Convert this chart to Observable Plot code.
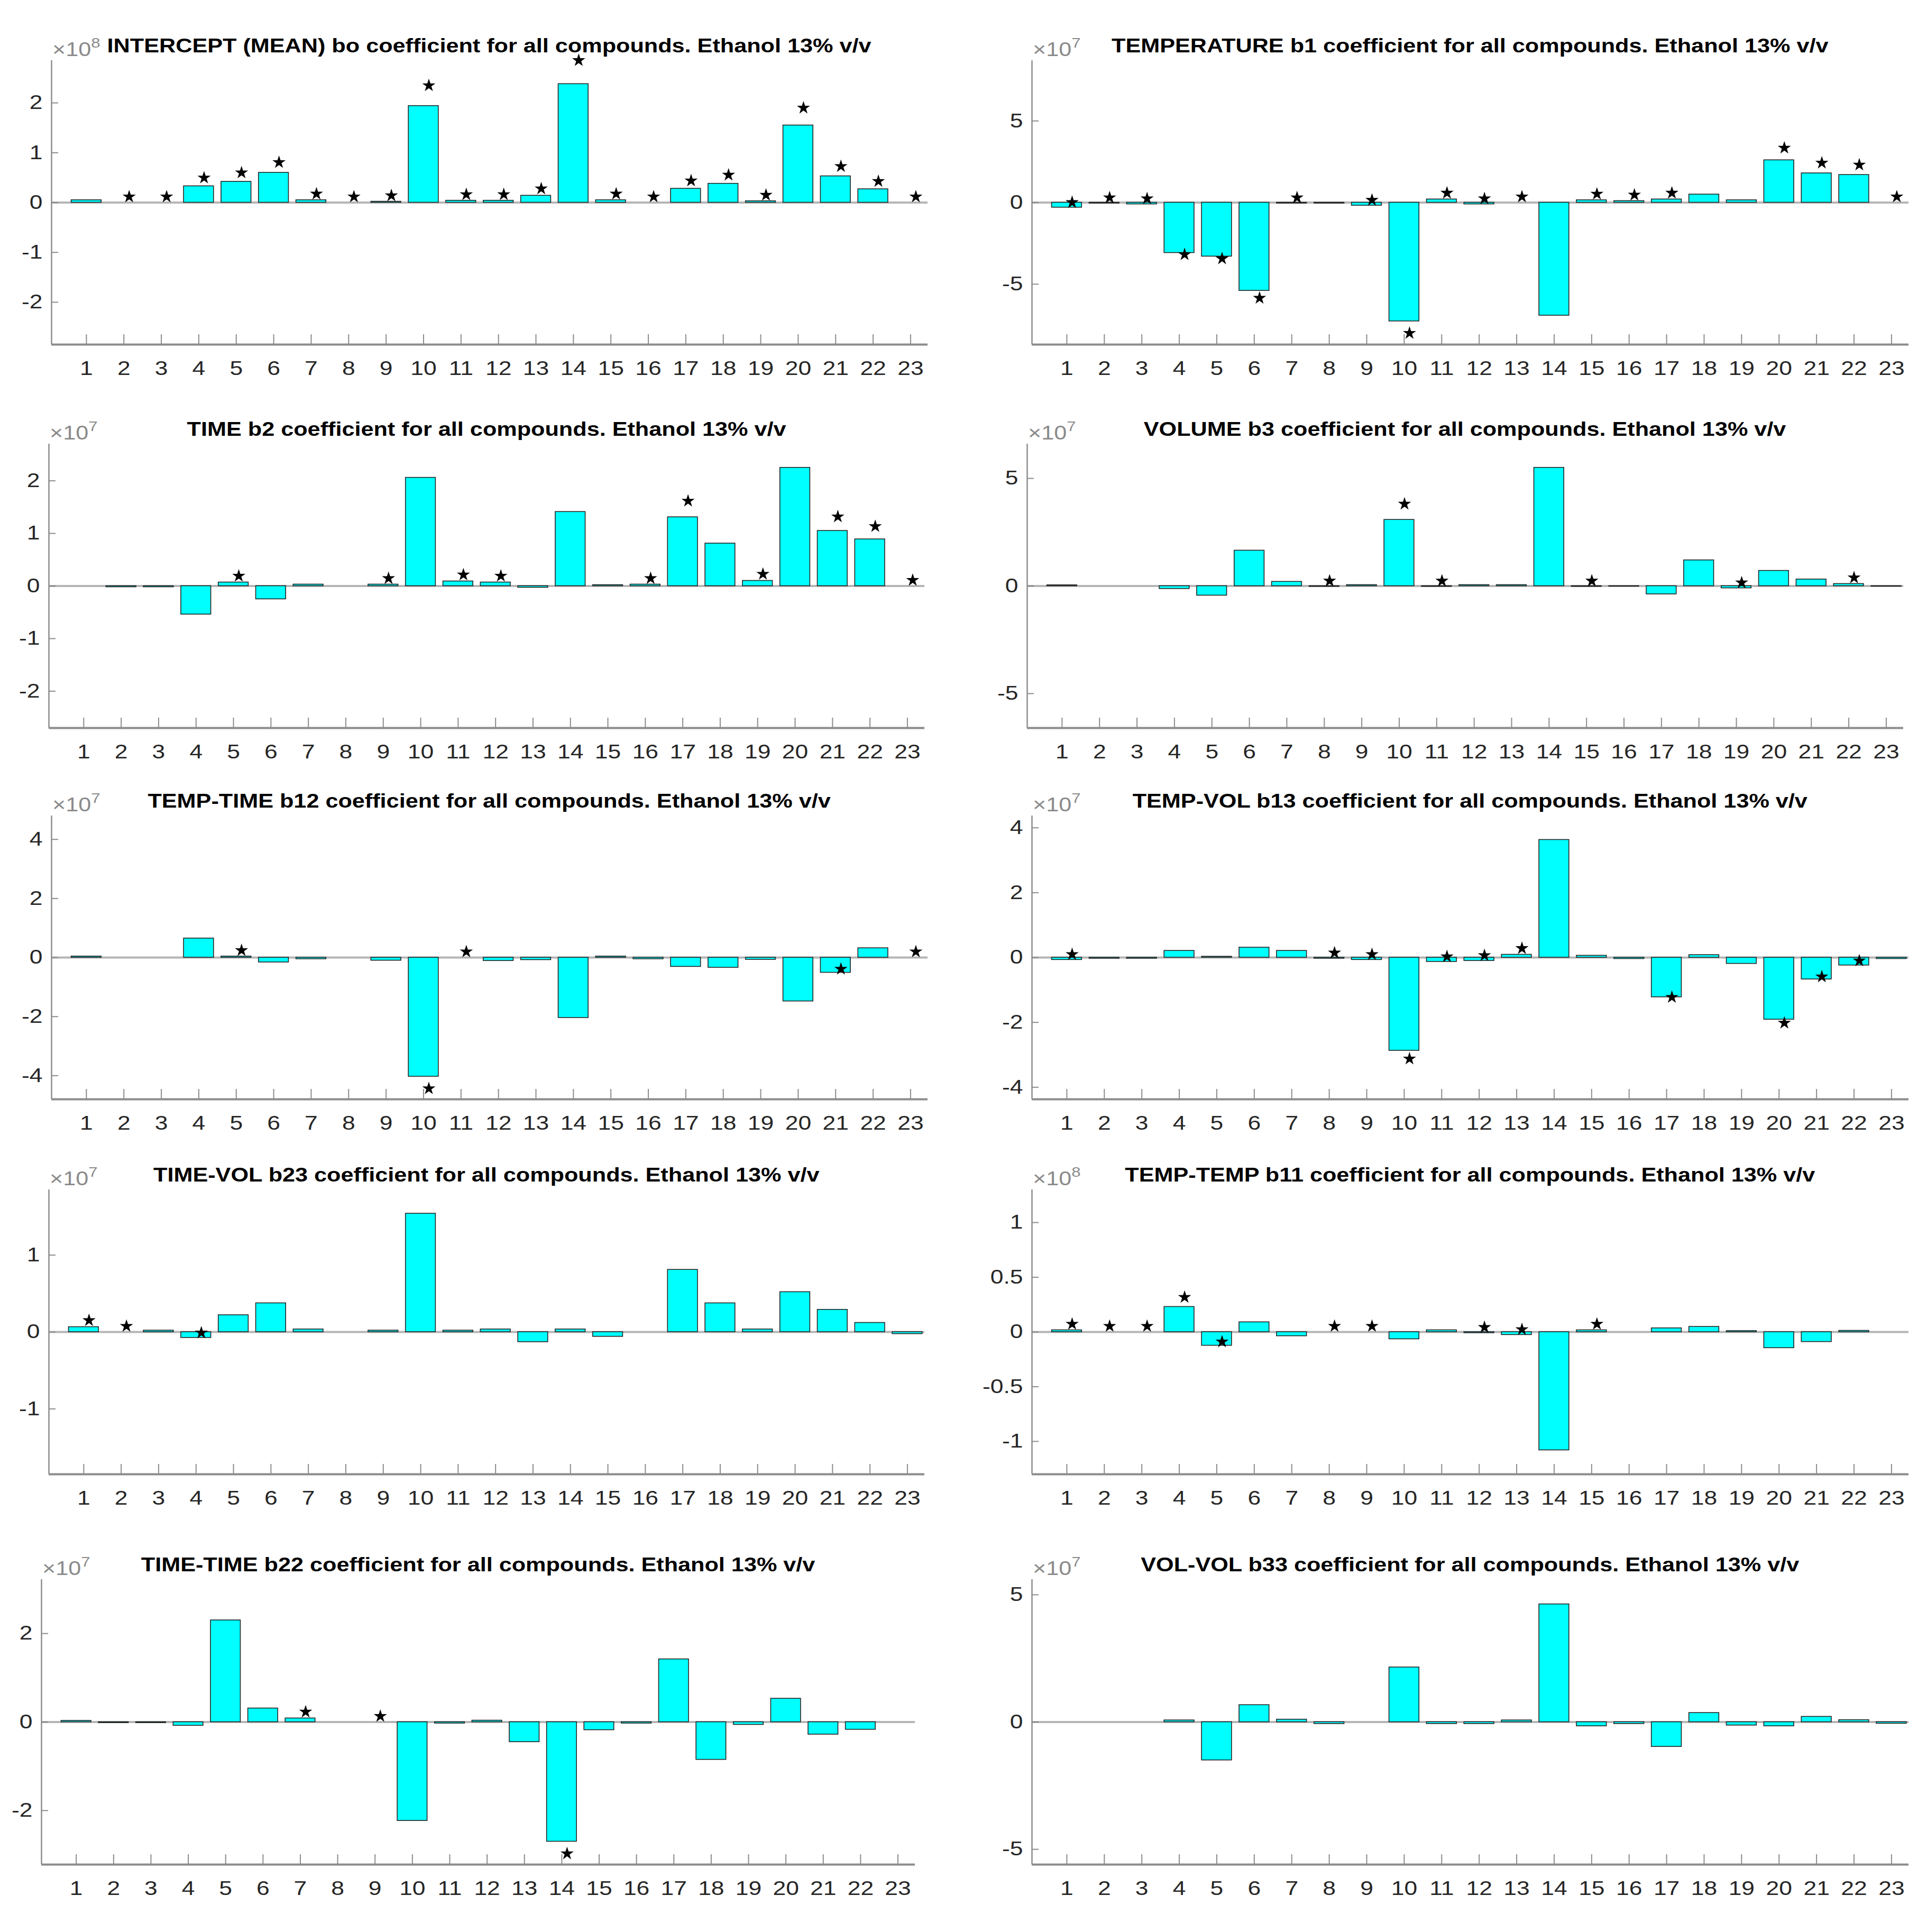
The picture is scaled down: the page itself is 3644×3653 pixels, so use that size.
<!DOCTYPE html>
<html>
<head>
<meta charset="utf-8">
<script src="https://cdn.jsdelivr.net/npm/d3@7"></script>
<script src="https://cdn.jsdelivr.net/npm/@observablehq/plot@0.6"></script>
<style>
  html, body { margin: 0; padding: 0; background: #fff; }
  #root { position: relative; width: 3644px; height: 3653px; background: #fff; font-family: "Liberation Sans", Arial, sans-serif; }
  .ttl { position: absolute; text-align: center; font-weight: bold; font-size: 36px; line-height: 36px; color: #000; white-space: nowrap; }
  .ttl span { display: inline-block; transform: scaleX(1.2); transform-origin: 50% 50%; }
  .exp { position: absolute; font-size: 36px; line-height: 36px; color: #8a8a8a; white-space: nowrap; transform: scaleX(1.2); transform-origin: 0 50%; }
  .exp sup { font-size: 26px; position: relative; vertical-align: baseline; top: -16px; }
  .pan { position: absolute; }
</style>
</head>
<body>
<div id="root"></div>
<script>
// ---- data ----
const compounds = [1,2,3,4,5,6,7,8,9,10,11,12,13,14,15,16,17,18,19,20,21,22,23];

const titles = [
  "INTERCEPT (MEAN) bo coefficient for all compounds. Ethanol 13% v/v",
  "TEMPERATURE b1 coefficient for all compounds. Ethanol 13% v/v",
  "TIME b2 coefficient for all compounds. Ethanol 13% v/v",
  "VOLUME b3 coefficient for all compounds. Ethanol 13% v/v",
  "TEMP-TIME b12 coefficient for all compounds. Ethanol 13% v/v",
  "TEMP-VOL b13 coefficient for all compounds. Ethanol 13% v/v",
  "TIME-VOL b23 coefficient for all compounds. Ethanol 13% v/v",
  "TEMP-TEMP b11 coefficient for all compounds. Ethanol 13% v/v",
  "TIME-TIME b22 coefficient for all compounds. Ethanol 13% v/v",
  "VOL-VOL b33 coefficient for all compounds. Ethanol 13% v/v"
];
const exponents = [8, 7, 7, 7, 7, 7, 7, 8, 7, 7];

// coefficient values (in units of the axis multiplier)
const b0  = [0.05, 0, 0, 0.33, 0.42, 0.60, 0.05, 0, 0.02, 1.94, 0.04, 0.04, 0.14, 2.38, 0.05, 0, 0.28, 0.38, 0.03, 1.55, 0.53, 0.27, 0];
const b1  = [-0.3, -0.05, -0.1, -3.08, -3.3, -5.4, -0.05, -0.05, -0.18, -7.27, 0.2, -0.1, 0, -6.92, 0.15, 0.1, 0.2, 0.5, 0.15, 2.6, 1.8, 1.7, 0];
const b2  = [0, -0.02, -0.02, -0.54, 0.07, -0.25, 0.03, 0, 0.03, 2.06, 0.09, 0.07, -0.03, 1.41, 0.02, 0.03, 1.31, 0.81, 0.10, 2.25, 1.05, 0.89, 0];
const b3  = [0.04, 0, 0, -0.13, -0.44, 1.65, 0.2, -0.03, 0.05, 3.08, -0.03, 0.05, 0.05, 5.5, -0.03, -0.02, -0.38, 1.2, -0.1, 0.71, 0.31, 0.1, -0.02];
const b12 = [0.04, 0, 0, 0.65, 0.04, -0.16, -0.05, 0, -0.1, -4.03, 0, -0.11, -0.08, -2.04, 0.04, -0.05, -0.31, -0.34, -0.07, -1.48, -0.51, 0.32, 0];
const b13 = [-0.07, -0.03, -0.03, 0.21, 0.03, 0.31, 0.21, -0.03, -0.07, -2.87, -0.13, -0.1, 0.09, 3.63, 0.06, -0.04, -1.22, 0.08, -0.19, -1.91, -0.67, -0.24, -0.04];
const b23 = [0.065, 0, 0.02, -0.075, 0.22, 0.375, 0.035, 0, 0.02, 1.54, 0.02, 0.035, -0.13, 0.035, -0.06, 0, 0.81, 0.375, 0.035, 0.52, 0.29, 0.12, -0.025];
const b11 = [0.017, 0, 0, 0.23, -0.124, 0.09, -0.037, 0, 0, -0.065, 0.017, -0.009, -0.026, -1.08, 0.017, 0, 0.035, 0.048, 0.01, -0.146, -0.09, 0.012, 0];
const b22 = [0.03, -0.02, -0.02, -0.08, 2.3, 0.31, 0.085, 0, 0, -2.23, -0.03, 0.035, -0.45, -2.7, -0.18, -0.03, 1.42, -0.85, -0.06, 0.53, -0.28, -0.17, 0];
const b33 = [0, 0, 0, 0.07, -1.5, 0.67, 0.1, -0.07, 0, 2.15, -0.07, -0.07, 0.07, 4.63, -0.16, -0.07, -0.97, 0.36, -0.13, -0.16, 0.21, 0.08, -0.06];

// compounds marked with a star (significant)
const sig0  = [2,3,4,5,6,7,8,9,10,11,12,13,14,15,16,17,18,19,20,21,22,23];
const sig1  = [1,2,3,4,5,6,7,9,10,11,12,13,15,16,17,20,21,22,23];
const sig2  = [5,9,11,12,16,17,19,21,22,23];
const sig3  = [8,10,11,15,19,22];
const sig12 = [5,10,11,21,23];
const sig13 = [1,8,9,10,11,12,13,17,20,21,22];
const sig23 = [1,2,4];
const sig11 = [1,2,3,4,5,8,9,12,13,15];
const sig22 = [7,9,14];
const sig33 = [];

// y-axis limits (symmetric) and tick labels
const yLimits = [2.85, 8.7, 2.7, 6.6, 4.8, 4.37, 1.85, 1.3, 3.22, 5.6];
const yTicks = [
  [-2,-1,0,1,2], [-5,0,5], [-2,-1,0,1,2], [-5,0,5], [-4,-2,0,2,4],
  [-4,-2,0,2,4], [-1,0,1], [-1,-0.5,0,0.5,1], [-2,0,2], [-5,0,5]
];

const series = [b0, b1, b2, b3, b12, b13, b23, b11, b22, b33];
const sigs = [sig0, sig1, sig2, sig3, sig12, sig13, sig23, sig11, sig22, sig33];

// ---- layout (plot-area boxes in page pixels) ----
const boxes = [
  {L: 97,   T: 114,  W: 1657, H: 537},
  {L: 1951, T: 114,  W: 1658, H: 537},
  {L: 92,   T: 839,  W: 1656, H: 537},
  {L: 1942, T: 839,  W: 1657, H: 537},
  {L: 97,   T: 1542, W: 1657, H: 536},
  {L: 1951, T: 1542, W: 1658, H: 536},
  {L: 92,   T: 2249, W: 1656, H: 538},
  {L: 1951, T: 2249, W: 1658, H: 538},
  {L: 78,   T: 2986, W: 1652, H: 539},
  {L: 1951, T: 2986, W: 1658, H: 539}
];
const xDomain = [0.07, 23.46];
const starScale = 1.15;
const mL = 110, mR = 30, mT = 30, mB = 90;
const axisGray = "#8c8c8c";
const labelStretch = 1.2;

const root = document.getElementById("root");

series.forEach((vals, k) => {
  const b = boxes[k];
  const ymax = yLimits[k];
  const data = compounds.map((c, i) => ({c, v: vals[i]}));
  const stars = data.filter(d => sigs[k].includes(d.c));

  const svg = Plot.plot({
    width: b.W + mL + mR,
    height: b.H + mT + mB,
    marginLeft: mL, marginRight: mR, marginTop: mT, marginBottom: mB,
    style: {fontFamily: "Liberation Sans, Arial, sans-serif", fontSize: "37px", color: "#262626", background: "white", overflow: "visible"},
    x: {domain: xDomain},
    y: {domain: [-ymax, ymax]},
    marks: [
      Plot.ruleY([0], {stroke: "#b5b5b5", strokeWidth: 4}),
      Plot.rect(data.filter(d => d.v !== 0), {
        x1: d => d.c - 0.4, x2: d => d.c + 0.4, y1: 0, y2: "v",
        fill: "#00ffff", stroke: "#262626", strokeWidth: 1.6
      }),
      Plot.dot(stars, {x: "c", y: d => d.v * starScale, symbol: "star", fill: "black", stroke: "none", r: 7.8, dx: 10, dy: -11}),
      Plot.ruleX(compounds, {x: d => d, stroke: axisGray, strokeWidth: 2, insetTop: b.H - 19}),
      Plot.ruleY(yTicks[k], {y: d => d, stroke: axisGray, strokeWidth: 2, insetRight: b.W - 13}),
      Plot.ruleX([xDomain[0]], {stroke: axisGray, strokeWidth: 2.5}),
      Plot.ruleY([-ymax], {stroke: axisGray, strokeWidth: 4}),
      Plot.axisX(compounds, {tickSize: 0, tickPadding: 31, tickFormat: d => String(d), label: null}),
      Plot.axisY(yTicks[k], {tickSize: 0, tickPadding: 17, tickFormat: d => String(d), label: null})
    ]
  });

  // widen tick labels horizontally like the reference rendering
  svg.querySelectorAll('g[aria-label="x-axis tick label"] text, g[aria-label="y-axis tick label"] text').forEach(t => {
    const x = +t.getAttribute("x") || 0;
    const tr = t.getAttribute("transform") || "";
    t.setAttribute("transform", `${tr} translate(${x},0) scale(${labelStretch},1) translate(${-x},0)`);
  });

  const pan = document.createElement("div");
  pan.className = "pan";
  pan.style.left = (b.L - mL) + "px";
  pan.style.top = (b.T - mT) + "px";
  pan.appendChild(svg);
  root.appendChild(pan);

  const t = document.createElement("div");
  t.className = "ttl";
  t.style.left = b.L + "px";
  t.style.width = b.W + "px";
  t.style.top = (b.T - 45) + "px";
  const s = document.createElement("span");
  s.textContent = titles[k];
  t.appendChild(s);
  root.appendChild(t);

  const e = document.createElement("div");
  e.className = "exp";
  e.style.left = (b.L + 2) + "px";
  e.style.top = (b.T - 38) + "px";
  e.innerHTML = "×10<sup>" + exponents[k] + "</sup>";
  root.appendChild(e);
});
</script>
</body>
</html>
